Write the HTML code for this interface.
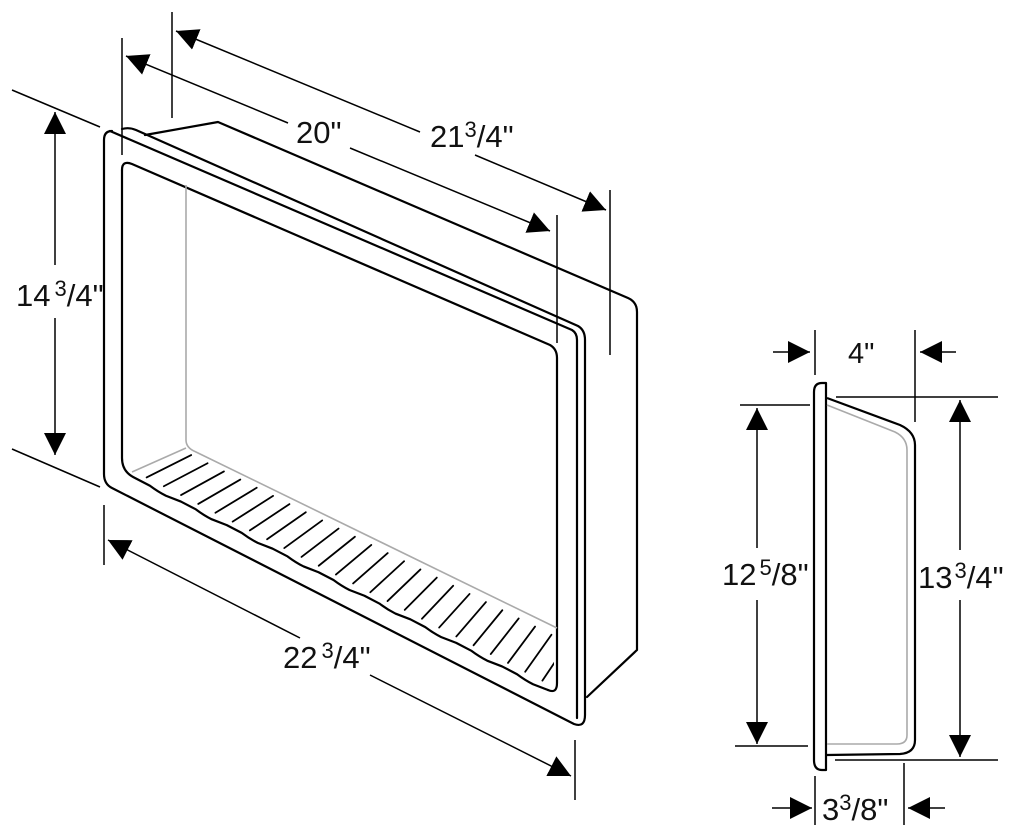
<!DOCTYPE html>
<html><head><meta charset="utf-8"><style>
html,body{margin:0;padding:0;background:#fff;}
svg{display:block}
text{font-family:"Liberation Sans",sans-serif;fill:#111;}
</style></head><body>
<svg id="s" width="1024" height="830" viewBox="0 0 1024 830" xmlns="http://www.w3.org/2000/svg">
<defs>
<marker id="a" viewBox="0 0 10 10" refX="10" refY="5" markerWidth="22" markerHeight="22" markerUnits="userSpaceOnUse" orient="auto-start-reverse"><path d="M0,0L10,5L0,10z" fill="#000"/></marker>
<clipPath id="c"><rect x="0" y="0" width="554" height="830"/></clipPath>
</defs>
<g fill="none" stroke="#000" stroke-width="2.2" stroke-linejoin="round" stroke-linecap="round">
<path d="M145,135 L218,122 L628,298 Q637,302 637,312 L637,650 L587,697"/>
<path d="M112,131 Q104,131 104,140 L104,474 Q104,484 112,488 L574,724 Q585,728 585,715 L585,340 Q585,330 578,326 L136,130 Q129,127 122,129"/>
<path d="M110,131 L572,330 Q577,333 577,340 L577,718"/>
<path id="io" d="M122,170 Q122,160 132,164 L550,345 Q557,349 557,358 L557,683 Q557,694 548,690"/>
<path id="fl" d=""/>
</g>
<g fill="none" stroke="#aaa" stroke-width="1.6">
<path d="M186,185 L186,440 Q186,448 196,452 L557,628"/>
<path d="M132,472 L186,448"/>
</g>
<g id="h" stroke="#000" stroke-width="1.8" stroke-linecap="round" clip-path="url(#c)"></g>
<g stroke="#000" stroke-width="1.5" fill="none">
<line x1="122" y1="38" x2="122" y2="155"/>
<line x1="557" y1="215" x2="557" y2="343"/>
<line x1="126" y1="56" x2="288" y2="123" marker-start="url(#a)"/>
<line x1="350" y1="148" x2="550" y2="231" marker-end="url(#a)"/>
<line x1="172" y1="12" x2="172" y2="118"/>
<line x1="610" y1="190" x2="610" y2="355"/>
<line x1="176" y1="31" x2="420" y2="132" marker-start="url(#a)"/>
<line x1="475" y1="155" x2="606" y2="210" marker-end="url(#a)"/>
<line x1="12" y1="90" x2="100" y2="127"/>
<line x1="12" y1="449" x2="100" y2="487"/>
<line x1="55" y1="112" x2="55" y2="265" marker-start="url(#a)"/>
<line x1="55" y1="318" x2="55" y2="455" marker-end="url(#a)"/>
<line x1="104" y1="505" x2="104" y2="565"/>
<line x1="575" y1="740" x2="575" y2="800"/>
<line x1="108" y1="540" x2="300" y2="638" marker-start="url(#a)"/>
<line x1="370" y1="675" x2="571" y2="776" marker-end="url(#a)"/>
<line x1="740" y1="405" x2="810" y2="405"/>
<line x1="836" y1="397" x2="998" y2="397"/>
<line x1="815" y1="330" x2="815" y2="375"/>
<line x1="915" y1="330" x2="915" y2="422"/>
<line x1="735" y1="746" x2="808" y2="746"/>
<line x1="835" y1="760" x2="998" y2="760"/>
<line x1="815" y1="776" x2="815" y2="825"/>
<line x1="904" y1="763" x2="904" y2="825"/>
<line x1="773" y1="352" x2="810" y2="352" marker-end="url(#a)"/>
<line x1="956" y1="352" x2="920" y2="352" marker-end="url(#a)"/>
<line x1="772" y1="808" x2="812" y2="808" marker-end="url(#a)"/>
<line x1="945" y1="808" x2="908" y2="808" marker-end="url(#a)"/>
<line x1="757" y1="408" x2="757" y2="548" marker-start="url(#a)"/>
<line x1="757" y1="600" x2="757" y2="744" marker-end="url(#a)"/>
<line x1="960" y1="400" x2="960" y2="550" marker-start="url(#a)"/>
<line x1="960" y1="600" x2="960" y2="757" marker-end="url(#a)"/>
</g>
<g fill="none" stroke="#000" stroke-width="2.2" stroke-linejoin="round">
<path d="M814,392 Q814,383 822,383 L826,383 L826,770 L822,770 Q814,770 814,760 Z"/>
<path d="M827,398 L900,425 Q915,432 915,445 L915,740 Q915,753 900,754 L827,755"/>
</g>
<path d="M827,405 L895,432 Q907,438 907,450 L907,735 Q907,744 897,744 L827,744" fill="none" stroke="#aaa" stroke-width="1.6"/>
<text x="296" y="143" font-size="31">20"</text>
<text x="430" y="147" font-size="31">21<tspan font-size="22" dy="-10">3</tspan><tspan dy="10">/4"</tspan></text>
<text x="16" y="306" font-size="31">14<tspan font-size="22" dy="-10" dx="4">3</tspan><tspan dy="10">/4"</tspan></text>
<text x="283" y="668" font-size="31">22<tspan font-size="22" dy="-10" dx="4">3</tspan><tspan dy="10">/4"</tspan></text>
<text x="848" y="363" font-size="29">4"</text>
<text x="722" y="585" font-size="31">12<tspan font-size="22" dy="-10" dx="3">5</tspan><tspan dy="10">/8"</tspan></text>
<text x="918" y="588" font-size="31">13<tspan font-size="22" dy="-10" dx="2">3</tspan><tspan dy="10">/4"</tspan></text>
<text x="822" y="820" font-size="31">3<tspan font-size="22" dy="-10">3</tspan><tspan dy="10">/8"</tspan></text>
</svg>
<script>
var d='M122,170 L122,458 Q122,472 135,478';
var x0=135,y0=478,x1=548,y1=690,N=9;
for(var i=1;i<=N;i++){
 var xa=x0+(x1-x0)*i/N, ya=y0+(y1-y0)*i/N;
 var xm=x0+(x1-x0)*(i-0.5)/N, ym=y0+(y1-y0)*(i-0.5)/N;
 d+=' L'+(xm-8)+','+(ym-4)+' Q'+xm+','+(ym+2)+' '+(xm+8)+','+(ym+6)+' L'+xa+','+ya;
}
document.getElementById('fl').setAttribute('d',d);
var g=document.getElementById('h'),n=24,s='';
for(var i=0;i<n;i++){var t=(i+0.5)/n;
var x=x0+(x1-x0)*t,y=y0+(y1-y0)*t;
var dx=45-20*t,dy=-22-16*t;
s+='<line x1="'+(x+3)+'" y1="'+(y-5)+'" x2="'+(x+3+dx)+'" y2="'+(y-5+dy)+'"/>';}
g.innerHTML=s;
</script>
</body></html>
